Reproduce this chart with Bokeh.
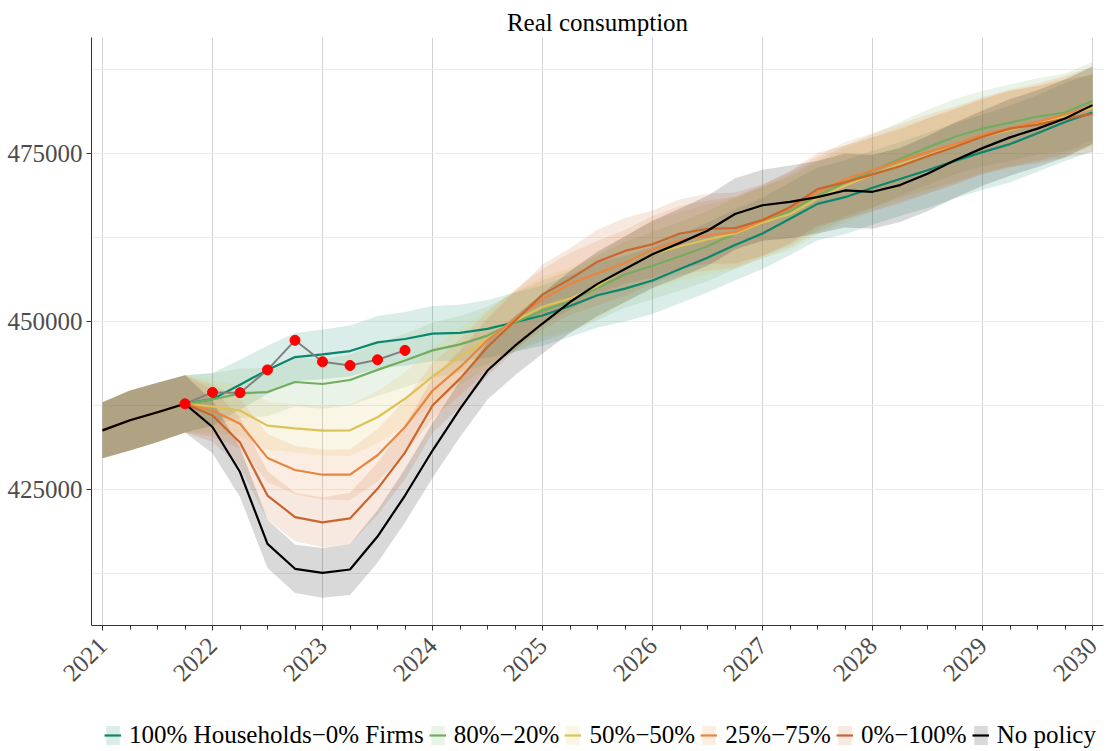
from math import pi
from bokeh.plotting import figure
from bokeh.layouts import column
from bokeh.models import Range1d, FixedTicker, PrintfTickFormatter, Legend, LegendItem
from bokeh.embed import file_html
from bokeh.resources import INLINE

# ---------------- data ----------------
hist_dates = [2021.0, 2021.25, 2021.5, 2021.75]
hist_values = [433800, 435300, 436500, 437750]
hist_lower = [429650, 430800, 432050, 433500]
hist_upper = [438000, 439750, 440900, 442000]

# quarterly scenario dates 2021Q4 .. 2030Q1
scen_dates = [2021.75, 2022.0, 2022.25, 2022.5, 2022.75, 2023.0, 2023.25, 2023.5, 2023.75,
              2024.0, 2024.25, 2024.5, 2024.75, 2025.0, 2025.25, 2025.5, 2025.75,
              2026.0, 2026.25, 2026.5, 2026.75, 2027.0, 2027.25, 2027.5, 2027.75,
              2028.0, 2028.25, 2028.5, 2028.75, 2029.0, 2029.25, 2029.5, 2029.75, 2030.0]

hh100_firms0 = [437750, 438450, 440600, 442800, 444700, 445100, 445600, 446900, 447400,
                448200, 448300, 448900, 449900, 450900, 452300, 453900, 454900,
                456100, 457800, 459500, 461400, 463100, 465300, 467500, 468500,
                469900, 471200, 472500, 473900, 475200, 476400, 478000, 479700, 481100]
hh80_firms20 = [437750, 438400, 439300, 439500, 441000, 440700, 441300, 442800, 444200,
                445700, 446600, 447900, 449900, 451600, 453000, 455000, 457000,
                458300, 459700, 461200, 463100, 464700, 466400, 468700, 470700,
                472400, 474200, 475900, 477500, 478700, 479600, 480500, 481100, 482800]
hh50_firms50 = [437750, 437350, 436750, 434500, 434100, 433750, 433800, 435750, 438500,
                441800, 444800, 447400, 450100, 452200, 453400, 455300, 457800,
                460000, 461200, 462200, 463100, 464700, 466000, 468300, 470200,
                471900, 473400, 474700, 476200, 477500, 478500, 479500, 480500, 481800]
hh25_firms75 = [437750, 436750, 434800, 429700, 427900, 427200, 427200, 430100, 434300,
                439700, 443200, 447200, 450400, 453300, 455600, 457200, 458700,
                460700, 462100, 462800, 463300, 465000, 466800, 469200, 471200,
                472500, 473900, 475200, 476400, 477800, 478800, 479700, 480800, 482100]
hh0_firms100 = [437750, 436000, 432000, 424100, 420900, 420100, 420700, 425100, 430500,
                437500, 441500, 446200, 450100, 454000, 456300, 458900, 460500,
                461500, 463100, 463800, 463900, 465100, 467000, 469700, 470700,
                471900, 473100, 474600, 476000, 477500, 478700, 479300, 480200, 480900]
no_policy = [437750, 434300, 427600, 416900, 413200, 412600, 413100, 418000, 424100,
             430800, 437000, 442700, 446400, 449700, 452900, 455600, 457800,
             460000, 461700, 463500, 466000, 467300, 467800, 468500, 469500,
             469300, 470300, 472000, 474000, 475800, 477400, 478700, 480200, 482200]

# half-width of the uncertainty band around each scenario path
band_halfwidth = [4250, 3900, 3700, 3600, 3600, 3700, 3800, 3900, 4000,
                  4100, 4200, 4300, 4400, 4500, 4600, 4800, 4900,
                  5000, 5100, 5200, 5300, 5300, 5400, 5400, 5500,
                  5500, 5500, 5600, 5600, 5600, 5700, 5700, 5800, 5800]

actual_dates = [2021.75, 2022.0, 2022.25, 2022.5, 2022.75, 2023.0, 2023.25, 2023.5, 2023.75]
actual_values = [437750, 439450, 439400, 442800, 447200, 444000, 443450, 444300, 445700]

scenario_names = ["100% Households\u22120% Firms", "80%\u221220%", "50%\u221250%",
                  "25%\u221275%", "0%\u2212100%", "No policy"]
scenario_values = [hh100_firms0, hh80_firms20, hh50_firms50, hh25_firms75, hh0_firms100, no_policy]
scenario_colors = ["#0a876c", "#72ad5f", "#dcc257", "#e8853f", "#c8662e", "#000000"]

year_ticks = [2021, 2022, 2023, 2024, 2025, 2026, 2027, 2028, 2029, 2030]
quarter_ticks = [y + q for y in range(2021, 2030) for q in (0.25, 0.5, 0.75)]
y_ticks = [425000, 450000, 475000]
y_minor = [412500, 437500, 462500, 487500]

FONT = "Liberation Serif"

# ---------------- main figure ----------------
p = figure(frame_width=1012, frame_height=588, output_backend="svg", toolbar_location=None,
           x_range=Range1d(2020.9, 2030.1), y_range=Range1d(404762, 492262),
           min_border_left=91, min_border_right=6, min_border_top=37, min_border_bottom=95,
           title="Real consumption")
p.title.align = "center"
p.title.text_font = FONT
p.title.text_font_size = "25px"
p.title.text_font_style = "normal"
p.title.text_color = "#000000"
p.title.standoff = 4
p.outline_line_color = None
p.background_fill_color = "white"
p.border_fill_color = "white"

for name, vals, col in zip(scenario_names, scenario_values, scenario_colors):
    xs = hist_dates[:-1] + scen_dates
    lo = hist_lower[:-1] + [v - h for v, h in zip(vals, band_halfwidth)]
    hi = hist_upper[:-1] + [v + h for v, h in zip(vals, band_halfwidth)]
    p.varea(x=xs, y1=lo, y2=hi, fill_color=col, fill_alpha=0.15)

for name, vals, col in zip(scenario_names, scenario_values, scenario_colors):
    xs = hist_dates[:-1] + scen_dates
    ys = hist_values[:-1] + vals
    p.line(x=xs, y=ys, line_color=col, line_width=2.2)

p.line(x=actual_dates, y=actual_values, line_color="#808080", line_width=2)
p.scatter(x=actual_dates, y=actual_values, size=10, fill_color="#ff0000", line_color="#ff0000")

# ---------------- axes / grids ----------------
p.xaxis.ticker = FixedTicker(ticks=year_ticks, minor_ticks=quarter_ticks)
p.xaxis.formatter = PrintfTickFormatter(format="%d")
p.xaxis.major_label_orientation = pi / 4
p.yaxis.ticker = FixedTicker(ticks=y_ticks, minor_ticks=y_minor)
p.yaxis.formatter = PrintfTickFormatter(format="%d")

for ax in (p.xaxis[0], p.yaxis[0]):
    ax.axis_line_color = "#333333"
    ax.axis_line_width = 1
    ax.major_tick_line_color = "#333333"
    ax.major_tick_in = 0
    ax.major_tick_out = 5
    ax.major_label_text_font = FONT
    ax.major_label_text_font_size = "25px"
    ax.major_label_text_color = "#4d4d4d"
p.yaxis.major_label_standoff = 4
p.xaxis.major_label_standoff = 11
p.xaxis.minor_tick_line_color = "#333333"
p.xaxis.minor_tick_in = 0
p.xaxis.minor_tick_out = 4
p.yaxis.minor_tick_line_color = None

p.xgrid.grid_line_color = "#d2d2d2"
p.xgrid.grid_line_width = 1
p.xgrid.minor_grid_line_color = None
p.ygrid.grid_line_color = "#ebebeb"
p.ygrid.grid_line_width = 1.2
p.ygrid.minor_grid_line_color = "#ebebeb"
p.ygrid.minor_grid_line_width = 1

# ---------------- legend strip (separate small figure) ----------------
lf = figure(frame_width=1109, frame_height=30, output_backend="svg", toolbar_location=None,
            x_range=Range1d(0, 1), y_range=Range1d(0, 1),
            x_axis_location=None, y_axis_location=None,
            min_border_left=0, min_border_right=0, min_border_top=0, min_border_bottom=0)
lf.outline_line_color = None
lf.xgrid.visible = False
lf.ygrid.visible = False
items = []
for name, col in zip(scenario_names, scenario_colors):
    # off-screen placeholder glyphs: only their styles are used, for the legend swatches
    b = lf.varea(x=[-2, -1], y1=[-2, -2], y2=[-1, -1], fill_color=col, fill_alpha=0.15)
    l = lf.line(x=[-2, -1], y=[-2, -1], line_color=col, line_width=2.2)
    items.append(LegendItem(label=name, renderers=[b, l]))
legend = Legend(items=items, orientation="horizontal", location=(104, 1),
                glyph_width=17, glyph_height=24, label_standoff=8, spacing=5,
                padding=0, margin=0, border_line_color=None, background_fill_alpha=0,
                label_text_font=FONT, label_text_font_size="25px", label_text_color="#000000",
                label_height=24)
lf.add_layout(legend, "center")

open("out.html", "w").write(file_html(column(p, lf, spacing=0), INLINE))
